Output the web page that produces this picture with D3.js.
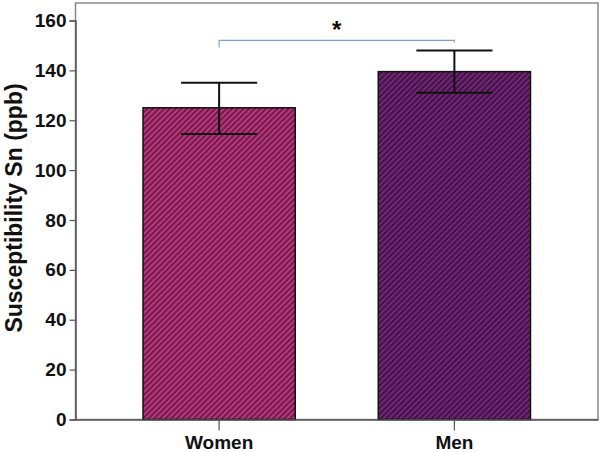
<!DOCTYPE html>
<html>
<head>
<meta charset="utf-8">
<script src="https://cdn.jsdelivr.net/npm/d3@7"></script>
<style>
  body { margin: 0; background: #fff; }
  text { font-family: "Liberation Sans", Arial, sans-serif; font-weight: bold; }
</style>
</head>
<body>
<svg id="chart" width="600" height="452"></svg>
<script>
const groups = ["Women", "Men"];
const means = [125, 139.5];
const errLow = [114.5, 131];
const errHigh = [135, 148];
const yTicks = [0, 20, 40, 60, 80, 100, 120, 140, 160];
const fills = [["#b03c7a", "#7c1650"], ["#6c2a72", "#46104a"]];
const sigLevel = 152, sigLabel = "*";

const svg = d3.select("#chart");
const margin = {left: 75.5, right: 2, top: 3, bottom: 32};
const W = 600, H = 452;

const x = d3.scaleBand().domain(groups)
  .range([margin.left, W - margin.right]).paddingInner(0.353).paddingOuter(0.287);
const y = d3.scaleLinear().domain([0, 160]).range([419.5, 20.5]);

// hatch patterns
const defs = svg.append("defs");
fills.forEach((c, i) => {
  const p = defs.append("pattern")
    .attr("id", "hatch" + i)
    .attr("patternUnits", "userSpaceOnUse")
    .attr("width", 4).attr("height", 4)
    .attr("patternTransform", "rotate(-45)");
  p.append("rect").attr("width", 4).attr("height", 4).attr("fill", c[0]);
  p.append("rect").attr("width", 4).attr("height", 2).attr("fill", c[1]);
});

// frame
svg.append("rect")
  .attr("x", margin.left).attr("y", margin.top)
  .attr("width", W - margin.right - margin.left)
  .attr("height", y(0) - margin.top)
  .attr("fill", "none").attr("stroke", "#8a8a8a").attr("stroke-width", 1.5);

// bars
svg.selectAll("rect.bar").data(groups).join("rect")
  .attr("class", "bar")
  .attr("x", d => x(d))
  .attr("y", (d, i) => y(means[i]))
  .attr("width", x.bandwidth())
  .attr("height", (d, i) => y(0) - y(means[i]))
  .attr("fill", (d, i) => `url(#hatch${i})`)
  .attr("stroke", "#111").attr("stroke-width", 1.5);

// error bars
const eb = svg.append("g").attr("stroke", "#111").attr("stroke-width", 2);
groups.forEach((g, i) => {
  const cx = x(g) + x.bandwidth() / 2, hw = x.bandwidth() / 4;
  eb.append("line").attr("x1", cx).attr("x2", cx).attr("y1", y(errLow[i])).attr("y2", y(errHigh[i]));
  eb.append("line").attr("x1", cx - hw).attr("x2", cx + hw).attr("y1", y(errHigh[i])).attr("y2", y(errHigh[i]));
  eb.append("line").attr("x1", cx - hw).attr("x2", cx + hw).attr("y1", y(errLow[i])).attr("y2", y(errLow[i]));
});

// y axis
const yAxis = svg.append("g")
  .attr("transform", `translate(${margin.left},0)`)
  .call(d3.axisLeft(y).tickValues(yTicks).tickSize(6).tickPadding(3));
yAxis.select(".domain").attr("stroke", "#555").attr("stroke-width", 1.5);
yAxis.selectAll(".tick line").attr("stroke", "#555").attr("stroke-width", 1.2);
yAxis.selectAll("text").attr("font-size", 19).attr("fill", "#111")
  .attr("font-family", "'Liberation Sans', Arial, sans-serif").attr("font-weight", "bold");

// x axis
const xAxis = svg.append("g")
  .attr("transform", `translate(0,${y(0)})`)
  .call(d3.axisBottom(x).tickSize(11).tickPadding(5).tickSizeOuter(0));
xAxis.select(".domain").attr("stroke", "#555").attr("stroke-width", 1.5);
xAxis.selectAll(".tick line").attr("stroke", "#555").attr("stroke-width", 1.2);
xAxis.selectAll("text").attr("font-size", 19).attr("fill", "#111")
  .attr("font-family", "'Liberation Sans', Arial, sans-serif").attr("font-weight", "bold");

// y title
svg.append("text")
  .attr("transform", `translate(22,208) rotate(-90)`)
  .attr("text-anchor", "middle")
  .attr("font-size", 23).attr("fill", "#111")
  .text("Susceptibility Sn (ppb)");

// significance bracket
const x1 = x(groups[0]) + x.bandwidth() / 2, x2 = x(groups[1]) + x.bandwidth() / 2;
svg.append("path")
  .attr("d", `M${x1},${y(sigLevel) + 7}V${y(sigLevel)}H${x2}V${y(sigLevel) + 2}`)
  .attr("fill", "none").attr("stroke", "#7f9fd0").attr("stroke-width", 1.2);
svg.append("text")
  .attr("x", (x1 + x2) / 2).attr("y", y(sigLevel) - 2)
  .attr("text-anchor", "middle").attr("font-size", 24).attr("fill", "#111")
  .text(sigLabel);
</script>
</body>
</html>
